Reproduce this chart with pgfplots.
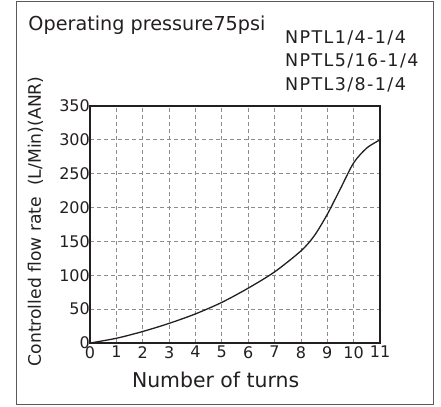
\documentclass[border=0pt]{standalone}
\usepackage{pgfplots}
\pgfplotsset{compat=1.18}
\usepackage{fontspec}
\setmainfont{DejaVu Sans}
\newfontfamily\legfont[LetterSpace=8]{DejaVu Sans}
\definecolor{txt}{HTML}{231F20}
\definecolor{gridc}{HTML}{8C8C8C}
\definecolor{framec}{HTML}{5A5A5A}
\begin{document}
\begin{tikzpicture}[x=1bp,y=1bp]
\path[use as bounding box] (0,0) rectangle (441,406);
\draw[framec, line width=1.4bp] (16.7,1.7) rectangle (433.3,404.3);
\begin{axis}[
  at={(90bp,63bp)}, anchor=south west,
  scale only axis, width=290bp, height=237bp,
  xmin=0, xmax=11, ymin=0, ymax=350,
  xtick={0,1,...,11}, ytick={0,50,...,350},
  major tick length=0pt,
  grid=major,
  major grid style={gridc, dash pattern=on 4bp off 3bp, line width=0.8bp},
  axis line style={txt, line width=1.5bp},
  /pgf/number format/assume math mode=true,
  ticklabel style={font=\fontsize{16bp}{18bp}\selectfont, text=txt},
  xticklabel style={inner sep=1bp, yshift=-2bp},
  yticklabel style={inner sep=1bp, xshift=1bp},
  xlabel={Number of turns},
  ylabel={Controlled flow rate~~(L/Min)(ANR)},
  every axis x label/.style={at={(axis description cs:0.433,-0.1886)}, anchor=base, font=\fontsize{20.4bp}{22bp}\selectfont, text=txt},
  every axis y label/.style={at={(axis description cs:-0.169,0.513)}, rotate=90, anchor=base, font=\fontsize{17.2bp}{19bp}\selectfont, text=txt},
  clip=false,
]
\addplot[txt, line width=1.3bp, smooth, tension=0.5] coordinates {
(0,0) (1,7) (2,17) (3,29) (4,43) (5,60) (6,81) (7,105) (8,136) (8.5,158) (9,190) (9.5,228) (10,266) (10.5,288) (11,300)
};
\end{axis}
\node[anchor=base west, inner sep=0, text=txt, font=\fontsize{19.2bp}{21bp}\selectfont] at (28.3,375.5) {Operating pressure75psi};
\node[anchor=base west, inner sep=0, text=txt, font=\legfont\fontsize{17.5bp}{19bp}\selectfont] at (285,362.7) {NPTL1/4-1/4};
\node[anchor=base west, inner sep=0, text=txt, font=\legfont\fontsize{17.5bp}{19bp}\selectfont] at (285,339.3) {NPTL5/16-1/4};
\node[anchor=base west, inner sep=0, text=txt, font=\legfont\fontsize{17.5bp}{19bp}\selectfont] at (285,316) {NPTL3/8-1/4};
\end{tikzpicture}
\end{document}
